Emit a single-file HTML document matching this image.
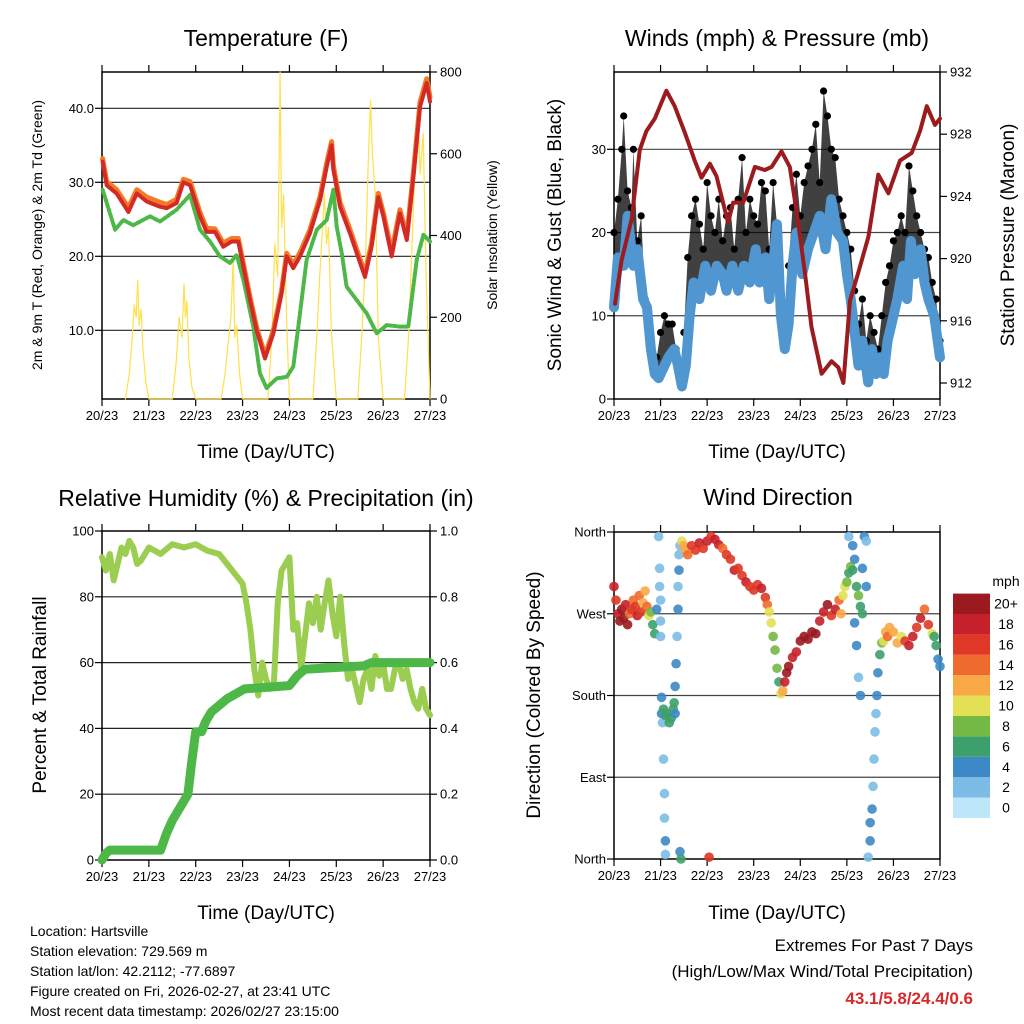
<!DOCTYPE html>
<html><head><meta charset="utf-8"><style>
html,body{margin:0;padding:0;background:#fff;}
svg{display:block;font-family:"Liberation Sans",Arial,sans-serif;}
</style></head><body>
<svg id="chart" width="1024" height="1024" viewBox="0 0 1024 1024">
<rect x="0" y="0" width="1024" height="1024" fill="#fff"/>
<text x="266" y="46" font-size="23" text-anchor="middle">Temperature (F)</text>
<text x="777" y="46" font-size="23" text-anchor="middle">Winds (mph) &amp; Pressure (mb)</text>
<text x="266" y="506" font-size="23" text-anchor="middle">Relative Humidity (%) &amp; Precipitation (in)</text>
<text x="778" y="505" font-size="23" text-anchor="middle">Wind Direction</text>
<text transform="translate(42,235) rotate(-90)" font-size="14" text-anchor="middle">2m &amp; 9m T (Red, Orange) &amp; 2m Td (Green)</text>
<text transform="translate(497,235) rotate(-90)" font-size="14" text-anchor="middle">Solar Insolation (Yellow)</text>
<text transform="translate(561,235) rotate(-90)" font-size="19" text-anchor="middle">Sonic Wind &amp; Gust (Blue, Black)</text>
<text transform="translate(1014,235) rotate(-90)" font-size="19" text-anchor="middle">Station Pressure (Maroon)</text>
<text transform="translate(46,695) rotate(-90)" font-size="19" text-anchor="middle">Percent &amp; Total Rainfall</text>
<text transform="translate(540,695) rotate(-90)" font-size="19" text-anchor="middle">Direction (Colored By Speed)</text>
<text x="266" y="458" font-size="19" text-anchor="middle">Time (Day/UTC)</text>
<text x="777" y="458" font-size="19" text-anchor="middle">Time (Day/UTC)</text>
<text x="266" y="919" font-size="19" text-anchor="middle">Time (Day/UTC)</text>
<text x="777" y="919" font-size="19" text-anchor="middle">Time (Day/UTC)</text>
<g font-size="14">
<text x="30" y="936">Location: Hartsville</text>
<text x="30" y="956">Station elevation: 729.569 m</text>
<text x="30" y="976">Station lat/lon: 42.2112; -77.6897</text>
<text x="30" y="996">Figure created on Fri, 2026-02-27, at 23:41 UTC</text>
<text x="30" y="1016">Most recent data timestamp: 2026/02/27 23:15:00</text>
</g>
<g font-size="17" text-anchor="end">
<text x="973" y="951">Extremes For Past 7 Days</text>
<text x="973" y="977">(High/Low/Max Wind/Total Precipitation)</text>
<text x="973" y="1004" fill="#D42A2B" font-weight="bold">43.1/5.8/24.4/0.6</text>
</g>
<text x="1006" y="586" font-size="14" text-anchor="middle">mph</text>
</svg>
<script>
const dayLabels = ["20/23","21/23","22/23","23/23","24/23","25/23","26/23","27/23"];
const tempHours = [0.3,2.4,7.5,13.5,17.8,22.9,29.7,33.1,38.2,41.7,45.1,50.2,53.6,57.9,62.1,66.4,69.8,72.4,75.8,79.2,83.5,87.8,92,94.6,98,101.4,106.5,111.7,115.1,117.6,118.5,121.9,127,132.2,134.7,138.1,141.5,144.1,148.4,152.6,156.1,159.5,162.9,166.3,168];
const tempRed = [32.8,29.6,28.5,26,28.5,27.4,26.7,26.5,27.2,30,29.6,25.4,23.3,23.3,21.3,22,22,18.6,14.1,10,6.2,9.6,15,20,18.4,20,23.1,27.6,32.1,35,31.7,26.7,23.1,19.1,17.2,21.3,28,25.4,20,25.8,22.2,30.8,40.2,43.4,40.9];
const tempOrange = [33.2,30.1,29,26.6,29,28,27.3,27,27.7,30.4,30.1,25.9,23.8,23.7,21.8,22.4,22.4,19,14.5,10.4,6.6,10,15.4,20.4,18.9,20.5,23.6,28.1,32.6,35.5,32.2,27.3,23.6,19.6,17.7,21.8,28.5,25.9,20.6,26.3,22.7,31.3,40.8,44,41.5];
const dewHours = [0.3,6.7,10.9,16,24.6,29.7,38.2,45.1,50.2,55.3,60.4,65.6,69,72.4,77.5,80.9,84.3,89.5,94.6,98,101.4,104.8,110,115.1,118.5,120.2,122.8,125.3,130.4,135.6,140.7,145.8,152.6,156.9,161.2,164.6,168];
const dewGreen = [29,23.6,24.9,24.2,25.4,24.7,26.3,28.3,23.6,22,20,19.1,20.2,16.8,10.5,4.2,2.2,3.5,3.7,5.1,12.3,19.5,23.6,24.9,29,24,20.4,15.9,14.1,12.3,9.6,10.7,10.5,10.5,19.5,22.9,22];
const solarHours = [12,14,15.5,16.5,17.5,18.3,19,20,21,22.5,24, 36,38,39.5,41,42,42.7,43.5,44.5,46,48, 61,63,64.5,66,67.2,68,69,70.5,72, 85,87,88.5,90,91.2,92,93,94.5,96, 108,110,111.5,113,113.9,115,116,117.5,120, 131,133,135,136.5,137.6,138.5,140,141.5,144, 155,157,159,160.5,161.9,163,164.5,166,168];
const solarVals = [0,60,150,230,200,291,180,220,120,40,0, 0,90,200,150,281,200,240,100,30,0, 0,60,130,200,340,150,180,60,0, 0,150,380,300,800,420,500,200,0, 0,150,300,420,503,380,420,160,0, 0,150,350,600,730,600,500,150,0, 0,150,400,600,690,550,650,300,0];
const presHours = [0.5,3.9,9,13.3,16.7,21,27,31.3,36.5,41.6,45.1,49.4,52.8,58.8,61.4,66.6,72.6,77.7,81.2,86.3,90.6,94.9,98.4,101.8,107,112.1,115.6,118.2,121.6,125.9,131.1,136.2,141.4,147.4,153.4,157.7,161.2,165.4,168];
const presVals = [917.1,919.9,922.5,927,928.2,929,930.8,929.8,928.1,926.3,925.2,926.1,925.3,922.3,923.6,923.6,925.9,925.7,925.9,926.9,925.9,922.3,919.1,915.6,912.6,913.4,913,912,917.3,919.1,921.4,925.4,924.2,926.3,926.8,928.2,929.8,928.6,929];
const windHours = [0,2,5,7,10,12,15,17,19,21,23,26,28,31,33,35,37,39,41,44,47,50,53,56,58,61,64,67,70,73,75,78,80,82,84,86,88,90,92,94,97,100,103,106,109,112,115,118,120,122,124,126,128,131,133,135,137,139,141,143,146,149,151,153,155,158,160,162,165,168];
const windSust = [11,17,16,22,16,18,12,11,6,3,2.5,4,5,6,4,1.5,4,10,14,12,16,13,16,15,13,16,13,16,14,18,14,17,12,16,21,10,6,9,16,20,15,18,20,22,18,24,20,19,15,12,8,4,7,2,6,3,5,3,7,9,12,16,12,19,15,18,14,12,10,5];
const gustHours = [0,2,4,5,7,9,10,12,14,16,18,20,22,24,26,28,30,32,34,36,38,40,42,44,46,48,50,52,54,56,58,60,62,64,66,68,70,72,74,76,78,80,82,84,86,88,90,92,94,96,98,100,102,104,106,108,110,112,114,116,118,120,122,124,126,128,130,132,134,136,138,140,142,144,146,148,150,152,154,156,158,160,162,164,166,168];
const gustVals = [20,24,30,34,25,23,30,19,22,12,7,4,5,8,10,9,9,6,3,8,17,22,24,21,18,26,22,20,24,19,22,23,18,24,29,20,24,22,21,26,25,18,26,21,12,8,16,23,27,22,26,28,30,33,26,37,34,30,29,24,22,20,18,13,9,12,7,10,8,6,10,14,16,19,20,22,20,28,25,22,20,18,17,14,12,7];
const rhHours = [0,2,4,6,8,10,12,14,16,18,20,24,30,36,42,48,54,60,64,68,72,74,76,78,80,82,84,86,88,90,92,94,96,98,100,102,104,106,108,110,112,114,116,118,120,122,124,126,128,130,132,134,136,138,140,142,144,146,148,150,152,154,156,158,160,162,164,166,168];
const rhVals = [92,88,93,85,90,95,93,97,95,90,91,95,93,96,95,96,94,93,90,87,84,78,70,58,50,60,55,52,53,78,88,90,92,70,72,58,68,78,72,80,70,78,85,75,68,80,66,55,58,53,48,55,58,52,62,56,60,52,52,58,60,55,58,52,48,46,52,46,44];
const precipHours = [0,2,4,30,33,36,40,44,46,48,51,53,56,60,64,70,73,96,100,104,134,138,168];
const precipVals = [0,0.02,0.03,0.03,0.08,0.12,0.16,0.2,0.3,0.39,0.39,0.42,0.45,0.47,0.49,0.51,0.52,0.53,0.56,0.58,0.59,0.6,0.6];
const dirHours = [0,1,2,3,4,5,6,7,8,9,10,11,12,13,14,15,16,17,18,19,20,21,22,23,23.5,23.5,24,24,24,24.5,25,25.5,26,26,26.5,26.5,24.5,25.5,26.5,27.5,28.5,29.5,30.5,31,31.5,31.5,32,32.5,33,33,33.5,33.5,34,34,34.5,35,36,37,38,40,42,44,46,48,50,52,54,56,58,49,60,62,64,66,68,70,72,74,76,78,79,80,81,82,83,84,85,86,87,88,89,90,92,94,96,98,100,102,104,106,108,110,112,114,116,117,118,119,120,121,122,123,124,125,126,127,128,121,123,124,125,126,127,128,129,130,130,131,132,132,133,133.5,134,134.5,135,135.5,136,137,138,139,140,141,142,144,146,148,150,152,154,156,158,160,162,164,165,166,167,168];
const dirVals = [300,285,270,262,275,265,280,258,270,275,285,278,268,290,272,282,295,278,268,272,258,248,275,355,320,300,285,262,245,178,150,110,72,45,20,5,160,165,158,160,150,155,165,172,160,190,215,245,275,300,318,335,345,8,0,350,345,340,335,345,340,348,342,350,355,352,346,342,335,2,330,318,320,312,305,300,296,302,298,288,280,272,260,245,230,210,195,182,185,195,205,212,222,228,240,245,242,250,248,262,272,280,268,275,285,270,290,300,305,315,322,318,330,300,290,278,270,355,345,260,235,200,180,320,355,350,300,2,20,40,55,80,110,140,160,180,205,225,238,240,250,245,255,250,238,245,240,235,245,255,265,275,258,248,245,235,220,212];
const dirSpeeds = [18,16,18,20,20,20,18,20,14,16,14,16,18,14,16,12,12,14,10,8,6,6,4,2,2,2,2,2,2,4,2,2,2,2,4,2,4,6,6,6,6,6,6,6,4,4,4,2,4,2,4,2,2,4,6,10,12,12,14,16,16,18,16,18,16,18,18,14,16,16,16,18,16,16,18,16,16,16,18,16,14,10,10,8,8,8,6,10,12,18,20,20,18,18,20,20,20,20,20,18,18,20,16,18,14,12,10,10,8,6,8,6,4,6,8,6,6,2,4,4,4,2,4,4,4,2,4,2,4,4,4,2,2,2,2,4,4,6,8,10,12,14,12,12,12,10,16,18,18,16,18,14,16,10,6,6,4,4];
const speedLevels = ["0","2","4","6","8","10","12","14","16","18","20+"];
const speedColors = ["#BDE6F8","#7CBCE6","#3D88C6","#3DA06C","#74B945","#E4E055","#F8A945","#EF6A2D","#DF3826","#C6202A","#9A1A1F"];

const svg = document.getElementById('chart');
const NS = 'http://www.w3.org/2000/svg';
function mk(tag, attrs){ const e=document.createElementNS(NS,tag); for(const k in attrs) e.setAttribute(k,attrs[k]); svg.appendChild(e); return e; }
function lin(d0,d1,p0,p1){ return v=>p0+(v-d0)*(p1-p0)/(d1-d0); }
function pts(xs,ys,fx,fy){ return xs.map((h,i)=>fx(h).toFixed(1)+','+fy(ys[i]).toFixed(1)).join(' '); }

const P1={x0:102,x1:430,y0:72,y1:399}, P2={x0:614,x1:940,y0:72,y1:399}, P3={x0:102,x1:430,y0:531,y1:860}, P4={x0:614,x1:940,y0:532,y1:859};
const x1=lin(0,168,P1.x0,P1.x1), x2=lin(0,168,P2.x0,P2.x1), x3=lin(0,168,P3.x0,P3.x1), x4=lin(0,168,P4.x0,P4.x1);
const yT=lin(10,40,330.3,108.3), yS=lin(0,800,399,72);
const yW=lin(0,30,399,149.3), yP=lin(912,932,383,72);
const yH=lin(0,100,860,531), yR=lin(0,1,860,531);
const yD=lin(0,360,859,532);

function frame(P,name,leftTicks,leftF,leftFmt,rightTicks,rightF,rightFmt,grid,gridColor){
  grid.forEach(v=>{ const g=mk('line',{x1:P.x0,x2:P.x1,y1:leftF(v),y2:leftF(v),stroke:gridColor||'#222','stroke-width':1.2});
    
     });
  const r=mk('rect',{x:P.x0,y:P.y0,width:P.x1-P.x0,height:P.y1-P.y0,fill:'none',stroke:'#000','stroke-width':1.5});
  
  
  const fx=lin(0,168,P.x0,P.x1);
  dayLabels.forEach((d,i)=>{ const x=fx(i*24);
    mk('line',{x1:x,x2:x,y1:P.y1,y2:P.y1+7,stroke:'#000','stroke-width':1.2});
    mk('line',{x1:x,x2:x,y1:P.y0,y2:P.y0-7,stroke:'#000','stroke-width':1.2});
    const t=mk('text',{x:x,y:P.y1+21,'font-size':13,'text-anchor':'middle'}); t.textContent=d;
    
     });
  leftTicks.forEach(v=>{ const y=leftF(v);
    mk('line',{x1:P.x0-7,x2:P.x0,y1:y,y2:y,stroke:'#000','stroke-width':1.2});
    const t=mk('text',{x:P.x0-8,y:y+4.5,'font-size':13,'text-anchor':'end'}); t.textContent=leftFmt(v);
    
     });
  rightTicks.forEach(v=>{ const y=rightF(v);
    mk('line',{x1:P.x1,x2:P.x1+7,y1:y,y2:y,stroke:'#000','stroke-width':1.2});
    const t=mk('text',{x:P.x1+10,y:y+4.5,'font-size':13,'text-anchor':'start'}); t.textContent=rightFmt(v);
    
     });
}
function line(xs,ys,fx,fy,color,w,name,dash){
  const a={points:pts(xs,ys,fx,fy),fill:'none',stroke:color,'stroke-width':w,'stroke-linejoin':'round','stroke-linecap':'round'};
  if(dash) a['stroke-dasharray']=dash;
  const p=mk('polyline',a);
  
  
  return p;
}

// Panel 1
frame(P1,'temperature',[10,20,30,40],yT,v=>v.toFixed(1),[0,200,400,600,800],yS,v=>String(v),[10,20,30,40]);
line(solarHours,solarVals,x1,yS,'#FFE04A',1.2,'solar-insolation-line');
line(dewHours,dewGreen,x1,yT,'#4DB848',4,'dewpoint-line','3 2');
line(tempHours,tempOrange,x1,yT,'#F47B25',5,'temp-9m-line');
line(tempHours,tempRed,x1,yT,'#D42A27',4,'temp-2m-line');

// Panel 2
frame(P2,'winds',[0,10,20,30],yW,v=>String(v),[912,916,920,924,928,932],yP,v=>String(v),[10,20,30],'#444');
const band=mk('polygon',{points:pts(gustHours,gustVals,x2,yW)+' '+pts(windHours.slice().reverse(),windSust.slice().reverse(),x2,yW),fill:'#000',opacity:0.75});


gustHours.forEach((h,i)=>{ const c=mk('circle',{cx:x2(h),cy:yW(gustVals[i]),r:3.6,fill:'#000'});
  
   });
line(windHours,windSust,x2,yW,'#5096D0',10,'sustained-wind-line');
line(presHours,presVals,x2,yP,'#9B1B1E',4,'pressure-line');

// Panel 3
frame(P3,'humidity',[0,20,40,60,80,100],yH,v=>String(v),[0,0.2,0.4,0.6,0.8,1.0],yR,v=>v.toFixed(1),[20,40,60,80]);
line(rhHours,rhVals,x3,yH,'#9ACD50',6,'relative-humidity-line');
line(precipHours,precipVals,x3,yR,'#4DB848',9,'precipitation-line');

// Panel 4
frame(P4,'direction',[0,90,180,270,360],yD,v=>['North','East','South','West','North'][v/90],[],yD,v=>'',[90,180,270],'#444');
function speedColor(s){ return speedColors[Math.min(10,Math.floor(s/2))]; }
dirHours.forEach((h,i)=>{ const c=mk('circle',{cx:x4(h),cy:yD(dirVals[i]),r:4.8,fill:speedColor(dirSpeeds[i]),opacity:0.9});
  
   });

// Colorbar
speedLevels.forEach((lab,i)=>{ const y=818-(i+1)*20.4;
  const r=mk('rect',{x:953,y:y,width:37,height:20.4,fill:speedColors[i]});
  
  
  const t=mk('text',{x:1006,y:y+15,'font-size':14,'text-anchor':'middle'}); t.textContent=lab;
  
   });
</script>
</body></html>
